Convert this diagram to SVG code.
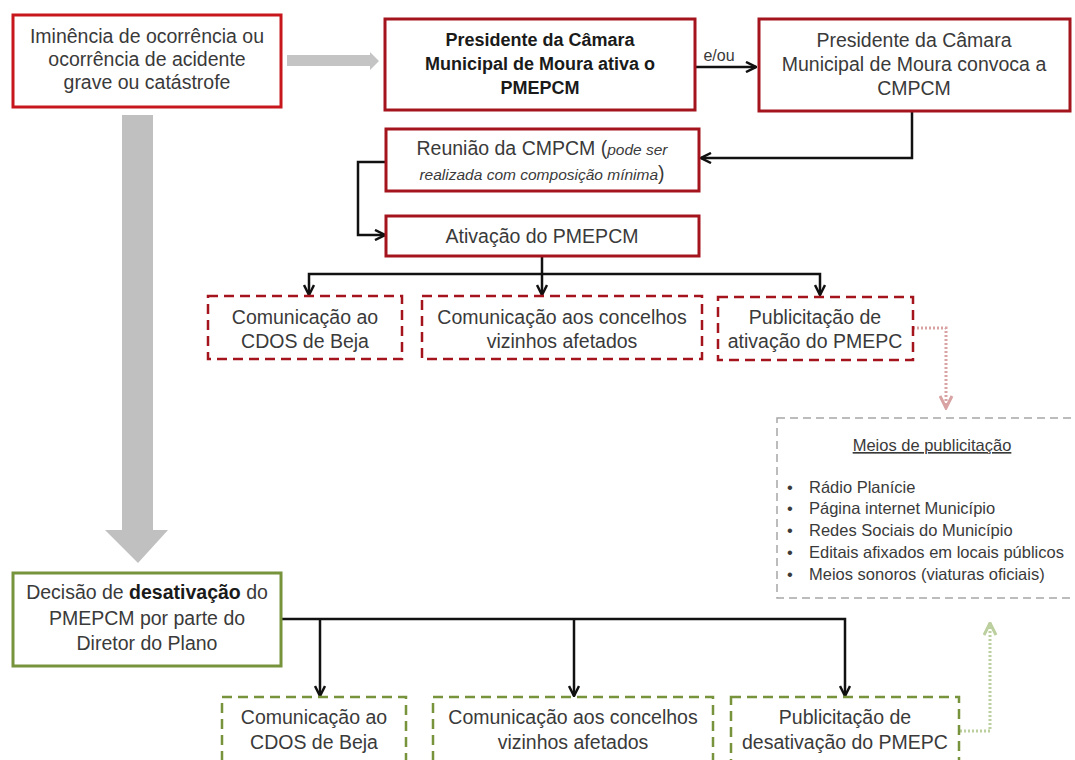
<svg xmlns="http://www.w3.org/2000/svg" width="1075" height="760" viewBox="0 0 1075 760">
<style>
text{font-family:"Liberation Sans",Arial,sans-serif;fill:#3a3a3a;font-size:19.5px;text-anchor:middle}
.b{font-weight:bold;fill:#1a1a1a;font-size:18px}
.red1{fill:#fff;stroke:#c8161d;stroke-width:3}
.red2{fill:#fff;stroke:#a3141c;stroke-width:3}
.redd{fill:#fff;stroke:#a3141c;stroke-width:2.5;stroke-dasharray:10,6}
.grn{fill:#fff;stroke:#77933c;stroke-width:3}
.grnd{fill:#fff;stroke:#77933c;stroke-width:2.5;stroke-dasharray:10,6}
.gryd{fill:#fff;stroke:#a6a6a6;stroke-width:1.5;stroke-dasharray:8,5}
.con{fill:none;stroke:#111;stroke-width:2.5;marker-end:url(#ah)}
.li{text-anchor:start;font-size:16.5px}
.it{font-style:italic;font-size:15.5px}
</style>
<defs>
<marker id="ah" viewBox="0 0 10 10" refX="9" refY="5" markerWidth="5" markerHeight="5" orient="auto" markerUnits="strokeWidth">
<path d="M1,1 L9,5 L1,9" fill="none" stroke="#111" stroke-width="2"/>
</marker>
<marker id="ahp" viewBox="0 0 10 10" refX="9" refY="5" markerWidth="5" markerHeight="5" orient="auto" markerUnits="strokeWidth">
<path d="M1,1 L9,5 L1,9" fill="none" stroke="#d9a3a3" stroke-width="2"/>
</marker>
<marker id="ahg" viewBox="0 0 10 10" refX="9" refY="5" markerWidth="5" markerHeight="5" orient="auto" markerUnits="strokeWidth">
<path d="M1,1 L9,5 L1,9" fill="none" stroke="#bccf9e" stroke-width="2"/>
</marker>
</defs>

<g id="connectors">
<polygon points="287,55 370,55 370,52 379,61 370,70 370,66 287,66" fill="#c4c4c4"/>
<polygon points="122,115 153,115 153,530 168,530 138,563 105,530 122,530" fill="#c0c0c0"/>
<path class="con" d="M695,67 H756"/>
<text x="719" y="61" style="font-size:16px">e/ou</text>
<path class="con" d="M912,111 V158 H701"/>
<path class="con" d="M386,162 H358 V235 H385"/>
<path class="con" d="M542,256 V295"/>
<path class="con" d="M542,274 H309 V295"/>
<path class="con" d="M542,274 H820 V295"/>
<path d="M913,328 H946 V408" fill="none" stroke="#d9a3a3" stroke-width="3" stroke-dasharray="2,2" marker-end="url(#ahp)"/>
<path class="con" d="M281,619 H845 V696"/>
<path class="con" d="M320,619 V696"/>
<path class="con" d="M574,619 V696"/>
<path d="M960,731 H990 V623" fill="none" stroke="#bccf9e" stroke-width="3" stroke-dasharray="2,2" marker-end="url(#ahg)"/>
</g>

<g id="n1">
<rect class="red1" x="13" y="15" width="268" height="92"/>
<text x="147" y="43">Iminência de ocorrência ou</text>
<text x="147" y="66">ocorrência de acidente</text>
<text x="147" y="89">grave ou catástrofe</text>
</g>
<g id="n2">
<rect class="red2" x="385" y="19" width="310" height="91"/>
<text class="b" x="540" y="46">Presidente da Câmara</text>
<text class="b" x="540" y="70">Municipal de Moura ativa o</text>
<text class="b" x="540" y="94">PMEPCM</text>
</g>
<g id="n3">
<rect class="red2" x="759" y="19" width="311" height="92"/>
<text x="914" y="47">Presidente da Câmara</text>
<text x="914" y="71">Municipal de Moura convoca a</text>
<text x="914" y="95">CMPCM</text>
</g>
<g id="n4">
<rect class="red2" x="386" y="129" width="313" height="62"/>
<text x="542" y="155">Reunião da CMPCM (<tspan class="it">pode ser</tspan></text>
<text x="542" y="180"><tspan class="it">realizada com composição mínima</tspan>)</text>
</g>
<g id="n5">
<rect class="red2" x="386" y="216" width="313" height="40"/>
<text x="542" y="243">Ativação do PMEPCM</text>
</g>
<g id="n6">
<rect class="redd" x="208" y="296" width="194" height="63"/>
<text x="305" y="324">Comunicação ao</text>
<text x="305" y="348">CDOS de Beja</text>
</g>
<g id="n7">
<rect class="redd" x="422" y="296" width="280" height="63"/>
<text x="562" y="324">Comunicação aos concelhos</text>
<text x="562" y="348">vizinhos afetados</text>
</g>
<g id="n8">
<rect class="redd" x="718" y="297" width="195" height="63"/>
<text x="815" y="324">Publicitação de</text>
<text x="815" y="348">ativação do PMEPC</text>
</g>
<g id="n9">
<rect class="gryd" x="777" y="418" width="310" height="180"/>
<text x="932" y="451" style="font-size:16.5px;text-decoration:underline">Meios de publicitação</text>
<text class="li" x="787" y="493">•</text><text class="li" x="809" y="493">Rádio Planície</text>
<text class="li" x="787" y="514">•</text><text class="li" x="809" y="514">Página internet Município</text>
<text class="li" x="787" y="536">•</text><text class="li" x="809" y="536">Redes Sociais do Município</text>
<text class="li" x="787" y="558">•</text><text class="li" x="809" y="558">Editais afixados em locais públicos</text>
<text class="li" x="787" y="580">•</text><text class="li" x="809" y="580">Meios sonoros (viaturas oficiais)</text>
</g>
<g id="n10">
<rect class="grn" x="13" y="573" width="268" height="93"/>
<text x="147" y="599">Decisão de <tspan class="b" style="font-size:19.5px">desativação</tspan> do</text>
<text x="147" y="625">PMEPCM por parte do</text>
<text x="147" y="650">Diretor do Plano</text>
</g>
<g id="n11">
<rect class="grnd" x="222" y="697" width="184" height="80"/>
<text x="314" y="724">Comunicação ao</text>
<text x="314" y="749">CDOS de Beja</text>
</g>
<g id="n12">
<rect class="grnd" x="433" y="697" width="280" height="80"/>
<text x="573" y="724">Comunicação aos concelhos</text>
<text x="573" y="749">vizinhos afetados</text>
</g>
<g id="n13">
<rect class="grnd" x="731" y="697" width="228" height="80"/>
<text x="845" y="724">Publicitação de</text>
<text x="845" y="749">desativação do PMEPC</text>
</g>
</svg>
